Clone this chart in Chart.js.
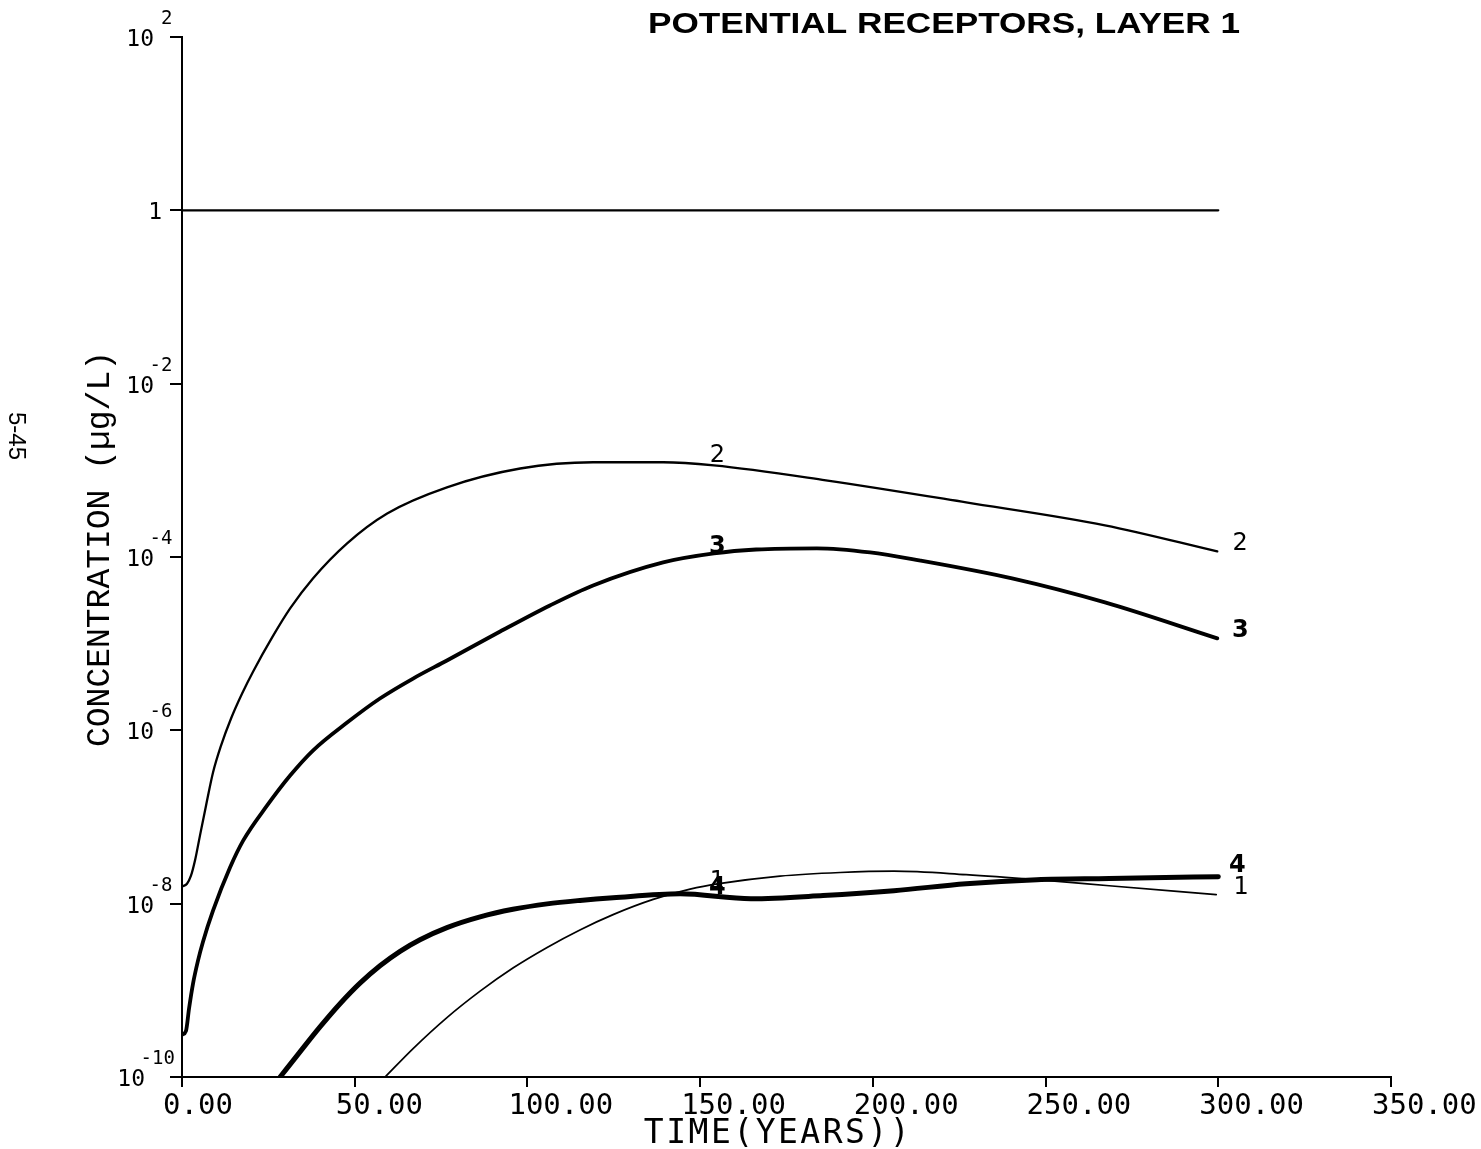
<!DOCTYPE html>
<html><head><meta charset="utf-8">
<script src="https://cdn.jsdelivr.net/npm/chart.js@4.4.1/dist/chart.umd.min.js"></script>
<style>html,body{margin:0;padding:0;background:#fff;}canvas{display:block;}</style>
</head><body>
<canvas id="c" width="1481" height="1149"></canvas>
<script>
// ---- texts ----
const titleText = "POTENTIAL RECEPTORS, LAYER 1";
const xAxisTitle = "TIME(YEARS))";
const yAxisTitle = "CONCENTRATION (\u00b5g/L)";
const pageNumber = "5-45";

// ---- ticks ----
const xTickValues = [0, 50, 100, 150, 200, 250, 300, 350];
const xTickLabels = ["0.00", "50.00", "100.00", "150.00", "200.00", "250.00", "300.00", "350.00"];
const yTickValues = [1e-10, 1e-8, 1e-6, 1e-4, 1e-2, 1, 1e2];
const yTickMantissa = ["10", "10", "10", "10", "10", "1", "10"];
const yTickExponent = ["-10", "-8", "-6", "-4", "-2", "", "2"];

// ---- series (years, concentration in ug/L) ----
const refLineYears = [0, 300];
const refLineConc = [1, 1];

const curve2Years = [0, 1.45, 2.6, 3.76, 5.2, 6.95, 8.98, 11.3, 14.2, 17.4, 20.6, 26.1, 31.3, 37.9, 47.8, 59.4, 76.7, 97.9, 119, 139.3, 154, 186.4, 227, 267.2, 299.7];
const curve2Conc = [1.57e-8, 1.70e-8, 2.10e-8, 3.14e-8, 6.10e-8, 1.35e-7, 3.26e-7, 6.67e-7, 1.37e-6, 2.66e-6, 4.78e-6, 1.18e-5, 2.55e-5, 5.66e-5, 1.44e-4, 3.18e-4, 6.37e-4, 1.05e-3, 1.24e-3, 1.24e-3, 1.14e-3, 7.67e-4, 4.27e-4, 2.32e-4, 1.16e-4];

const curve3Years = [0, 1.16, 2.03, 3.18, 4.63, 6.08, 8.98, 13.9, 17.7, 24.6, 31.3, 37.9, 47.8, 57.3, 66.9, 76.7, 92.1, 106.5, 119, 139.3, 154, 166.2, 183.8, 199.2, 213.4, 240.3, 267.2, 299.7];
const curve3Conc = [3.07e-10, 3.41e-10, 6.14e-10, 1.19e-9, 2.20e-9, 3.64e-9, 8.30e-9, 2.61e-8, 5.33e-8, 1.35e-7, 3.01e-7, 5.85e-7, 1.23e-6, 2.33e-6, 3.96e-6, 6.40e-6, 1.38e-5, 2.76e-5, 4.70e-5, 8.67e-5, 1.10e-4, 1.22e-4, 1.26e-4, 1.13e-4, 9.14e-5, 5.66e-5, 2.99e-5, 1.15e-5];

const curve4Years = [28.4, 34.16, 39.95, 45.74, 51.53, 57.32, 63.12, 68.9, 76.7, 86.3, 95.8, 105.7, 115.2, 124.8, 144.2, 164.7, 185.6, 206.1, 227, 247.5, 268.4, 300];
const curve4Conc = [1.0e-10, 1.95e-10, 3.78e-10, 7.00e-10, 1.21e-9, 1.92e-9, 2.82e-9, 3.84e-9, 5.30e-9, 7.05e-9, 8.61e-9, 9.95e-9, 1.09e-8, 1.17e-8, 1.30e-8, 1.14e-8, 1.24e-8, 1.41e-8, 1.70e-8, 1.89e-8, 1.95e-8, 2.05e-8];

const curve1Years = [58.8, 66.9, 76.7, 86.3, 95.8, 105.7, 115.2, 124.8, 136.4, 147.1, 155.5, 173.1, 190.5, 206.1, 227, 247.5, 268.4, 299.4];
const curve1Conc = [1.0e-10, 2.13e-10, 4.85e-10, 9.79e-10, 1.81e-9, 3.13e-9, 4.98e-9, 7.48e-9, 1.12e-8, 1.47e-8, 1.70e-8, 2.08e-8, 2.29e-8, 2.37e-8, 2.16e-8, 1.89e-8, 1.61e-8, 1.27e-8];

const curveNames = ["2", "3", "4", "1"];
const midLabelYear = 155;

const pts = (xs, ys) => xs.map((x, i) => ({x: x, y: ys[i]}));

function concAt(xs, ys, t) {
  for (let i = 0; i < xs.length - 1; i++) {
    if (t >= xs[i] && t <= xs[i + 1]) {
      const f = (t - xs[i]) / (xs[i + 1] - xs[i]);
      return Math.pow(10, Math.log10(ys[i]) + f * (Math.log10(ys[i + 1]) - Math.log10(ys[i])));
    }
  }
  return ys[ys.length - 1];
}

const curveSets = [
  {name: curveNames[0], xs: curve2Years, ys: curve2Conc, bold: false, dx: 23, dy: -8, mdy: -10},
  {name: curveNames[1], xs: curve3Years, ys: curve3Conc, bold: true, dx: 23, dy: -8, mdy: -6},
  {name: curveNames[2], xs: curve4Years, ys: curve4Conc, bold: true, dx: 19, dy: -11, mdy: -9},
  {name: curveNames[3], xs: curve1Years, ys: curve1Conc, bold: false, dx: 25, dy: -7, mdy: -2}
];

const overlay = {
  id: 'overlay',
  afterDraw(chart) {
    const ctx = chart.ctx, xs = chart.scales.x, ys = chart.scales.y, area = chart.chartArea;
    ctx.save();
    ctx.fillStyle = '#000';
    // y tick labels with superscripts
    yTickValues.forEach((v, i) => {
      const py = ys.getPixelForValue(v);
      const man = yTickMantissa[i], exp = yTickExponent[i];
      ctx.textBaseline = 'alphabetic';
      if (!exp) {
        ctx.font = '23px "DejaVu Sans Mono"'; ctx.textAlign = 'right';
        ctx.fillText(man, 162, py + 9);
        return;
      }
      const digits = exp.replace('-', '');
      const base = 154 - (digits.length - 1) * 9;
      ctx.font = '23px "DejaVu Sans Mono"'; ctx.textAlign = 'right';
      ctx.fillText(man, base, py + 9);
      ctx.font = '19px "DejaVu Sans Mono"'; ctx.textAlign = 'left';
      ctx.fillText(digits, base + 7, py - 13);
      if (exp.startsWith('-')) { ctx.textAlign = 'right'; ctx.fillText('-', base + 7, py - 13); }
    });
    // x tick labels
    ctx.font = '29px "DejaVu Sans Mono"'; ctx.textAlign = 'left'; ctx.textBaseline = 'alphabetic';
    xTickValues.forEach((v, i) => {
      const px = xs.getPixelForValue(v);
      ctx.fillText(xTickLabels[i], px - 19, area.bottom + 37);
    });
    // x axis title
    ctx.font = '33px "DejaVu Sans Mono"';
    try { ctx.letterSpacing = '2.5px'; } catch (e) {}
    ctx.textAlign = 'center';
    ctx.fillText(xAxisTitle, 778, area.bottom + 66);
    try { ctx.letterSpacing = '0px'; } catch (e) {}
    // y axis title
    ctx.save();
    ctx.translate(100, 549); ctx.rotate(-Math.PI / 2);
    ctx.font = '33px "Liberation Mono"'; ctx.textAlign = 'center'; ctx.textBaseline = 'middle';
    ctx.fillText(yAxisTitle, 0, 0);
    ctx.restore();
    // page number
    ctx.save();
    ctx.translate(16, 436); ctx.rotate(Math.PI / 2);
    ctx.font = '24px "Liberation Sans"'; ctx.textAlign = 'center'; ctx.textBaseline = 'middle';
    ctx.fillText(pageNumber, 0, 0);
    ctx.restore();
    // title (stretched Helvetica-like bold)
    ctx.save();
    ctx.font = 'bold 30px "Liberation Sans"';
    const tw = ctx.measureText(titleText).width;
    const target = 592;
    ctx.translate(944, 33); ctx.scale(target / tw, 1);
    ctx.textAlign = 'center'; ctx.textBaseline = 'alphabetic';
    ctx.fillText(titleText, 0, 0);
    ctx.restore();
    // curve labels
    ctx.textAlign = 'center'; ctx.textBaseline = 'middle';
    curveSets.forEach(c => {
      ctx.font = (c.bold ? 'bold ' : '') + '24px "DejaVu Sans"';
      const n = c.xs.length - 1;
      const ex = xs.getPixelForValue(c.xs[n]), ey = ys.getPixelForValue(c.ys[n]);
      ctx.fillText(c.name, ex + c.dx, ey + c.dy);
      const mx = xs.getPixelForValue(midLabelYear), my = ys.getPixelForValue(concAt(c.xs, c.ys, midLabelYear));
      ctx.fillText(c.name, mx, my + c.mdy);
    });
    ctx.restore();
  }
};

const lineDs = (xs, ys, w) => ({
  data: pts(xs, ys), borderColor: '#000', borderWidth: w, pointRadius: 0,
  cubicInterpolationMode: 'monotone', fill: false, borderCapStyle: 'round', borderJoinStyle: 'round'
});

new Chart(document.getElementById('c'), {
  type: 'line',
  data: {
    datasets: [
      lineDs(refLineYears, refLineConc, 2.2),
      lineDs(curve2Years, curve2Conc, 2.3),
      lineDs(curve3Years, curve3Conc, 3.8),
      lineDs(curve4Years, curve4Conc, 5),
      lineDs(curve1Years, curve1Conc, 1.7)
    ]
  },
  options: {
    responsive: false, animation: false, devicePixelRatio: 1,
    layout: {padding: {left: 170, right: 90, top: 37, bottom: 62}},
    plugins: {legend: {display: false}, tooltip: {enabled: false}, title: {display: false}},
    scales: {
      x: {
        type: 'linear', min: 0, max: 350,
        afterBuildTicks: s => { s.ticks = xTickValues.map(v => ({value: v})); },
        ticks: {display: false},
        grid: {display: true, drawOnChartArea: false, drawTicks: true, tickLength: 10, color: '#000', lineWidth: 2},
        border: {display: true, color: '#000', width: 2}
      },
      y: {
        type: 'logarithmic', min: 1e-10, max: 1e2,
        afterBuildTicks: s => { s.ticks = yTickValues.map(v => ({value: v})); },
        ticks: {display: false},
        grid: {display: true, drawOnChartArea: false, drawTicks: true, tickLength: 12, color: '#000', lineWidth: 2},
        border: {display: true, color: '#000', width: 2}
      }
    }
  },
  plugins: [overlay]
});
</script>
</body></html>
